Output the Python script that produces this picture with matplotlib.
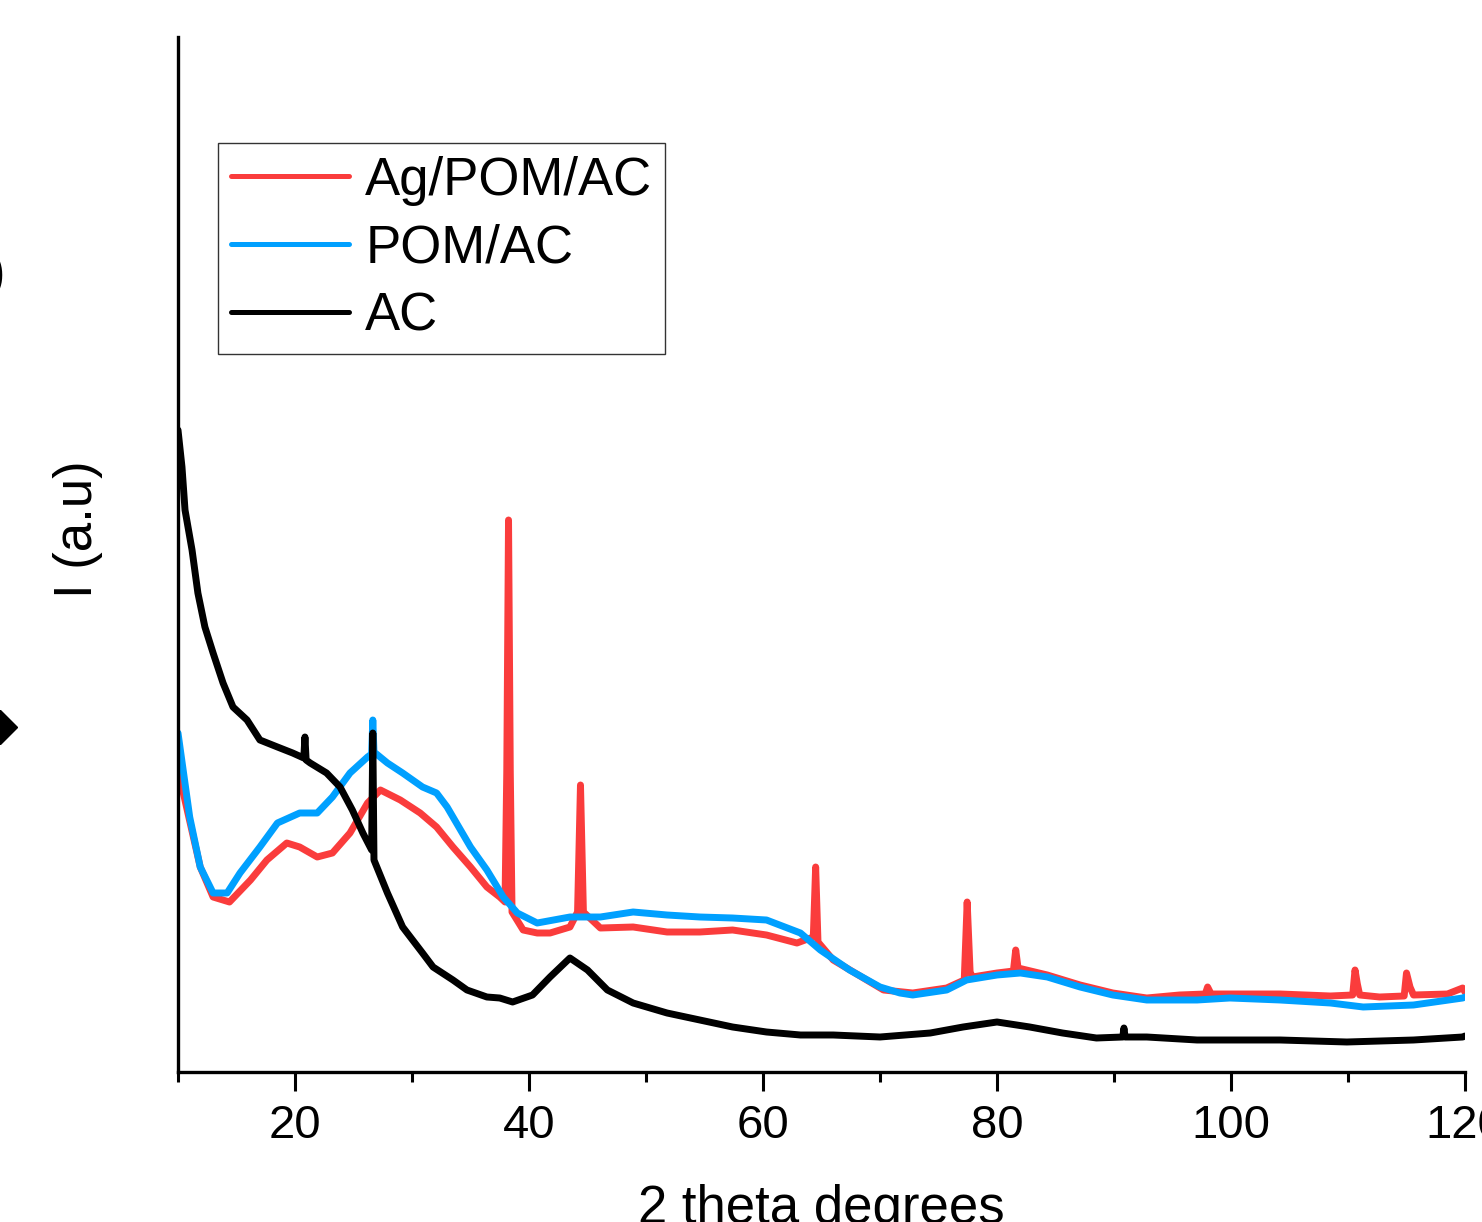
#!/usr/bin/env python3
"""XRD patterns of AC, POM/AC and Ag/POM/AC (intensity in a.u.)."""

import matplotlib
matplotlib.use("Agg")
import matplotlib.pyplot as plt
from matplotlib.lines import Line2D

plt.rcParams["font.family"] = ["Liberation Sans", "DejaVu Sans"]

# --- AC ---
ac_2theta = [10.0, 10.34, 10.6, 11.2, 11.7, 12.3, 13.0, 13.85, 14.7, 15.9, 17.0,
             18.5, 19.8, 20.75, 20.85, 20.95, 21.3, 22.7, 23.85, 24.9, 25.8,
             26.55, 26.65, 26.75, 27.9, 29.2, 30.9, 31.8, 33.5, 34.7, 36.4,
             37.5, 38.6, 40.3, 41.8, 43.5, 45.0, 46.7, 48.9, 51.8, 54.6, 57.4,
             60.3, 63.2, 66.0, 70.0, 74.3, 77.1, 80.0, 82.8, 85.6, 88.5, 90.75,
             90.85, 90.95, 92.8, 97.1, 104.2, 109.9, 115.6, 119.8, 120.0]
ac_int = [642, 605, 562, 522, 479, 445, 419, 389, 365, 352, 332,
          325, 319, 314, 335, 312, 309, 299, 285, 262, 239,
          222, 339, 212, 179, 145, 119, 105, 92, 82, 75,
          74, 70, 77, 95, 114, 102, 82, 69, 59, 52, 45,
          40, 37, 37, 35, 39, 45, 50, 45, 39, 34, 35,
          44, 35, 35, 32, 32, 30, 32, 35, 36]

# --- POM/AC ---
pom_2theta = [10.0, 11.0, 11.9, 13.0, 14.2, 15.3, 17.0, 18.5, 20.4, 21.9, 23.2,
              24.7, 26.2, 26.55, 26.65, 26.75, 27.9, 29.2, 30.9, 32.1, 33.0,
              33.8, 35.0, 36.4, 37.8, 39.0, 40.7, 42.1, 43.5, 46.1, 48.9,
              51.8, 54.6, 57.4, 60.3, 63.2, 64.9, 67.4, 70.0, 71.7, 72.8,
              75.7, 77.4, 80.0, 82.0, 84.3, 87.1, 89.9, 92.8, 97.1, 99.9,
              104.2, 108.5, 111.3, 115.6, 119.8, 120.0]
pom_int = [339, 255, 205, 179, 179, 199, 225, 249, 259, 259, 275,
           299, 315, 318, 352, 320, 309, 299, 285, 279, 265,
           249, 225, 202, 175, 159, 149, 152, 155, 155, 160,
           157, 155, 154, 152, 139, 122, 102, 85, 79, 77,
           82, 92, 97, 99, 95, 85, 77, 72, 72, 74,
           72, 69, 65, 67, 74, 75]

# --- Ag/POM/AC ---
ag_2theta = [10.0, 10.2, 11.9, 13.0, 14.4, 16.2, 17.6, 19.3, 20.4, 21.9, 23.2,
             24.7, 26.2, 27.3, 29.0, 30.7, 32.1, 33.5, 35.0, 36.4, 37.5,
             37.95, 38.1, 38.25, 38.4, 38.55, 39.5, 40.7, 41.8, 43.5, 44.15,
             44.4, 44.65, 46.1, 48.9, 51.8, 54.6, 57.4, 60.3, 62.9, 64.3,
             64.5, 64.7, 66.0, 70.3, 72.8, 75.7, 77.2, 77.45, 77.7, 77.9,
             80.0, 81.4, 81.6, 81.8, 84.3, 87.1, 89.9, 92.8, 95.6, 97.8,
             98.0, 98.3, 104.2, 108.5, 110.4, 110.6, 110.8, 111.0, 112.7, 114.8,
             115.0, 115.3, 115.6, 118.5, 119.8, 120.0]
ag_int = [299, 292, 205, 175, 170, 192, 212, 229, 225, 215, 219,
          239, 269, 282, 272, 259, 245, 225, 205, 185, 175,
          170, 300, 552, 300, 160, 142, 139, 139, 145, 160,
          287, 160, 144, 145, 140, 140, 142, 137, 129, 135,
          205, 130, 112, 82, 79, 84, 92, 170, 100, 95,
          99, 101, 122, 104, 97, 87, 79, 74, 77, 78,
          85, 78, 78, 76, 77, 102, 88, 77, 75, 76,
          99, 85, 77, 78, 84, 80]

LW = 5.0

fig = plt.figure(figsize=(14.82, 12.22), dpi=100)
ax = fig.add_axes([178 / 1482, 1 - 1072 / 1222, 1287 / 1482, 1035 / 1222])

style = dict(lw=LW, solid_joinstyle="round", solid_capstyle="round")
ax.plot(ag_2theta, ag_int, color="#FA3C3C", label="Ag/POM/AC", **style)
ax.plot(pom_2theta, pom_int, color="#00A0FF", label="POM/AC", **style)
ax.plot(ac_2theta, ac_int, color="black", label="AC", **style)

ax.set_xlim(10, 120)
ax.set_ylim(0, 1035)
ax.set_xticks([20, 40, 60, 80, 100, 120])
ax.set_xticks([10, 30, 50, 70, 90, 110], minor=True)
ax.set_yticks([])
ax.tick_params(axis="x", which="major", length=14, width=2.2, labelsize=34, pad=9)
ax.tick_params(axis="x", which="minor", length=7, width=2.2)
for side in ("top", "right"):
    ax.spines[side].set_visible(False)
for side in ("left", "bottom"):
    ax.spines[side].set_linewidth(2.4)

ax.set_xlabel("2 theta degrees", fontsize=38, labelpad=26)
ax.set_ylabel("I (a.u)", fontsize=38)
ax.yaxis.set_label_coords(-0.058, 0.524)

leg = ax.legend(loc="upper left", bbox_to_anchor=(0.0311, 0.8976), borderaxespad=0,
                fontsize=38, frameon=True, fancybox=False, handlelength=2.25,
                handletextpad=0.3, labelspacing=0.34, borderpad=0.24)
leg.get_frame().set_edgecolor("black")
leg.get_frame().set_linewidth(1.0)
for h in leg.get_lines():
    h.set_linewidth(3.6)

# fragments of a neighbouring panel cut at the left edge
fig.text(5 / 1482, 1 - 275 / 1222, ")", ha="right", va="center", fontsize=38)
fig.add_artist(Line2D([0], [1 - 727 / 1222], marker="D", markersize=17, color="black",
                      transform=fig.transFigure, clip_on=False))

fig.savefig("out.png", dpi=100)
